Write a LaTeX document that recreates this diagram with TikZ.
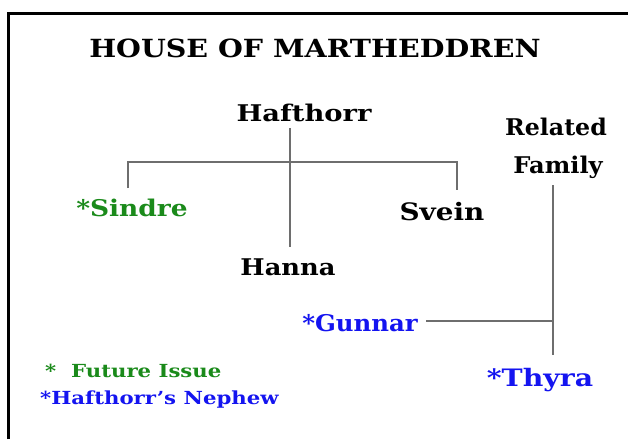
\documentclass[tikz,border=0pt]{standalone}
\usepackage{graphicx}
\usepackage{fontspec}
\setmainfont{DejaVu Serif}
\definecolor{famgreen}{HTML}{1A8A1A}
\definecolor{famblue}{HTML}{1414F0}
\definecolor{linegray}{HTML}{6E6E6E}
\newcommand{\widetext}[2][1.15]{\scalebox{#1}[1]{#2}}
\tikzset{
  personbox/.style={inner sep=0pt, font=\bfseries\fontsize{23}{26}\selectfont, text=black},
  bigbox/.style={personbox, font=\bfseries\fontsize{24}{28}\selectfont},
  futurebox/.style={personbox, text=famgreen},
  nephewbox/.style={personbox, text=famblue},
  link/.style={draw=linegray, line width=1.1pt},
  legendbox/.style={inner sep=0pt, anchor=west, font=\bfseries\fontsize{18}{21}\selectfont}
}
\begin{document}
\begin{tikzpicture}[x=1pt,y=-1pt]
\useasboundingbox (0,0) rectangle (628,439);
\fill[white] (0,0) rectangle (628,439);
\draw[line width=3pt, line join=miter] (8.5,439) -- (8.5,13.5) -- (628,13.5);

\node[inner sep=0pt, font=\bfseries\fontsize{25}{30}\selectfont] (title) at (315,48) {\widetext[1.14]{HOUSE OF MARTHEDDREN}};

\node[personbox] (hafthorr) at (304,113) {\widetext[1.19]{Hafthorr}};
\node[futurebox] (sindre) at (132,208) {\widetext{*Sindre}};
\node[bigbox] (svein) at (442,212) {\widetext[1.16]{Svein}};
\node[personbox] (hanna) at (288,267) {\widetext[1.12]{Hanna}};
\node[personbox] (related) at (556,127) {\widetext[1.03]{Related}};
\node[personbox] (family) at (558,167) {\widetext[1.05]{Family}};
\node[nephewbox] (gunnar) at (360,323) {\widetext[1.06]{*Gunnar}};
\node[bigbox, text=famblue] (thyra) at (540,380) {\widetext[1.18]{*Thyra}};

\node[legendbox, text=famgreen] (leg1) at (45,371) {\widetext[1.18]{*\ \ Future Issue}};
\node[legendbox, text=famblue] (leg2) at (40,400) {\widetext[1.18]{*Hafthorr’s Nephew}};

\coordinate (hf) at (290,128);
\coordinate (hn) at (290,247);
\coordinate (sj) at (128,188);
\coordinate (vj) at (457,190);
\coordinate (rf) at (553,185);
\coordinate (tj) at (553,355);
\coordinate (gj) at (426,321);

\draw[link] (hf) -- (hn);
\draw[link] (sj) -- ++(0,-26) -| (vj);
\draw[link] (rf) -- (tj);
\draw[link] (gj) -- (gj -| rf);
\end{tikzpicture}
\end{document}
